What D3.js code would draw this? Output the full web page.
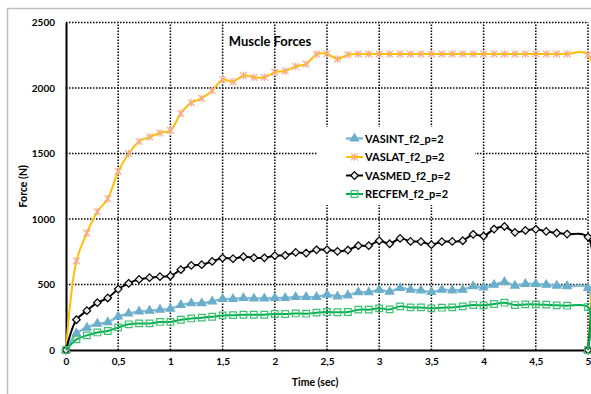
<!DOCTYPE html>
<html>
<head>
<meta charset="utf-8">
<script src="https://cdn.jsdelivr.net/npm/d3@7"></script>
<style>
  body { margin: 0; background: #fff; }
  text { font-family: Lato, "Open Sans", sans-serif; font-weight: bold; fill: #000; }
</style>
</head>
<body>
<div id="chart"></div>
<script>
const width = 591
const height = 394
const margin = {top: 22.5, right: 3, bottom: 44, left: 66}

// time samples (sec), last point drops to zero at 5
const times = [0, 0.1, 0.2, 0.3, 0.4, 0.5, 0.6, 0.7, 0.8, 0.9,
  1, 1.1, 1.2, 1.3, 1.4, 1.5, 1.6, 1.7, 1.8, 1.9,
  2, 2.1, 2.2, 2.3, 2.4, 2.5, 2.6, 2.7, 2.8, 2.9,
  3, 3.1, 3.2, 3.3, 3.4, 3.5, 3.6, 3.7, 3.8, 3.9,
  4, 4.1, 4.2, 4.3, 4.4, 4.5, 4.6, 4.7, 4.8, 5, 5]

const vasint = [0, 128, 170, 200, 212, 255, 278, 293, 300, 308,
  315, 343, 356, 357, 371, 389, 389, 397, 393, 393,
  397, 397, 404, 404, 404, 422, 409, 417, 440, 440,
  460, 445, 473, 460, 455, 443, 460, 455, 460, 486,
  478, 498, 519, 491, 504, 504, 498, 491, 486, 473, 0]

const vaslat = [0, 680, 893, 1056, 1155, 1363, 1498, 1592, 1626, 1656,
  1676, 1806, 1888, 1921, 1979, 2063, 2048, 2096, 2081, 2081,
  2120, 2130, 2165, 2183, 2257, 2262, 2221, 2254, 2260, 2260,
  2260, 2260, 2260, 2260, 2260, 2260, 2260, 2260, 2260, 2260,
  2260, 2260, 2260, 2260, 2260, 2260, 2260, 2260, 2260, 2254, 0]

const vasmed = [0, 231, 300, 361, 397, 465, 509, 539, 552, 560,
  565, 613, 646, 651, 676, 702, 697, 712, 704, 704,
  720, 723, 745, 740, 765, 765, 753, 763, 796, 796,
  834, 811, 852, 829, 827, 804, 827, 829, 834, 883,
  870, 923, 943, 898, 913, 921, 905, 893, 885, 862, 0]

const recfem = [0, 81, 112, 134, 145, 173, 196, 203, 203, 214,
  214, 231, 241, 247, 254, 264, 266, 269, 269, 269,
  275, 275, 279, 277, 285, 290, 288, 290, 308, 308,
  318, 310, 333, 325, 325, 318, 323, 325, 333, 343,
  341, 351, 361, 343, 348, 348, 346, 341, 338, 328, 0]

const xTicks = [0, 0.5, 1, 1.5, 2, 2.5, 3, 3.5, 4, 4.5, 5]
const yTicks = [0, 500, 1000, 1500, 2000, 2500]

const seriesNames = ["VASINT_f2_p=2", "VASLAT_f2_p=2", "VASMED_f2_p=2", "RECFEM_f2_p=2"]
const seriesValues = [vasint, vaslat, vasmed, recfem]

const styles = [
  {line: "#82bcd6", lw: 2.5, marker: "triangle", mfill: "#6aaecb", mstroke: "#6aaecb"},
  {line: "#ffc000", lw: 2, marker: "star", mfill: "none", mstroke: "#f7a98c"},
  {line: "#000000", lw: 2, marker: "diamond", mfill: "#e8e8e8", mstroke: "#000"},
  {line: "#00b050", lw: 2, marker: "square", mfill: "none", mstroke: "#3cc070"}
]

const xScale = d3.scaleLinear()
    .domain([0, 5])
    .range([margin.left, width - margin.right])

const yScale = d3.scaleLinear()
    .domain([0, 2500])
    .range([height - margin.bottom, margin.top])

const svg = d3.select("#chart")
    .append("svg")
    .attr("width", width)
    .attr("height", height)

// outer chart frame
svg.append("rect")
    .attr("x", 7.5).attr("y", 8.5)
    .attr("width", 620).attr("height", 420)
    .attr("fill", "none")
    .attr("stroke", "#c0c0c0")
    .attr("stroke-width", 1.5)

// dotted grid
const grid = svg.append("g")
grid.selectAll(".vg")
    .data(xTicks.filter(d => d > 0))
    .join("line")
    .attr("x1", d => xScale(d)).attr("x2", d => xScale(d))
    .attr("y1", yScale(0)).attr("y2", yScale(2500))
    .attr("stroke", "#000").attr("stroke-width", 1.5)
    .attr("stroke-dasharray", "1.5,1.5")
grid.selectAll(".hg")
    .data(yTicks.filter(d => d > 0))
    .join("line")
    .attr("x1", xScale(0)).attr("x2", xScale(5))
    .attr("y1", d => yScale(d)).attr("y2", d => yScale(d))
    .attr("stroke", "#000").attr("stroke-width", 1.5)
    .attr("stroke-dasharray", "1.5,1.5")

// axes
svg.append("g")
    .attr("transform", `translate(0,${yScale(0)})`)
    .call(d3.axisBottom(xScale).tickValues(xTicks).tickSize(0).tickPadding(8)
      .tickFormat(d => String(d).replace(".", ",")))
svg.append("g")
    .attr("transform", `translate(${xScale(0)},0)`)
    .call(d3.axisLeft(yScale).tickValues(yTicks).tickSize(0).tickPadding(11)
      .tickFormat(d3.format("d")))
svg.selectAll(".domain").attr("stroke", "#000").attr("stroke-width", 2)
svg.selectAll(".tick text").style("font-size", "10px").style("font-family", "Lato, sans-serif").style("font-weight", "bold")

svg.append("text")
    .attr("x", (xScale(0) + xScale(5)) / 2 - 12)
    .attr("y", 386)
    .attr("text-anchor", "middle")
    .style("font-size", "10.5px")
    .text("Time (sec)")

svg.append("text")
    .attr("transform", `translate(27,${(yScale(0) + yScale(2500)) / 2}) rotate(-90)`)
    .attr("text-anchor", "middle")
    .style("font-size", "10.5px")
    .text("Force (N)")

svg.append("text")
    .attr("x", 270)
    .attr("y", 45.5)
    .attr("text-anchor", "middle")
    .style("font-size", "13px")
    .text("Muscle Forces")

// marker shapes
function markerPath(type) {
  if (type === "triangle") return d3.symbol(d3.symbolTriangle, 30)()
  if (type === "diamond") return "M0,-3.8L3.8,0L0,3.8L-3.8,0Z"
  if (type === "square") return "M-3.3,-3.3H3.3V3.3H-3.3Z"
  return "M-3.3,-3.3L3.3,3.3M-3.3,3.3L3.3,-3.3M0,-3.8V3.8"
}

const line = d3.line()
    .x(d => xScale(d[0]))
    .y(d => yScale(d[1]))
    .curve(d3.curveCatmullRom.alpha(0.5))

seriesValues.forEach((vals, i) => {
  const pts = times.map((t, j) => [t, vals[j]])
  const st = styles[i]
  const g = svg.append("g")
  g.append("path")
      .attr("d", line(pts))
      .attr("fill", "none")
      .attr("stroke", st.line)
      .attr("stroke-width", st.lw)
  g.selectAll("path.m")
      .data(pts)
      .join("path")
      .attr("class", "m")
      .attr("d", markerPath(st.marker))
      .attr("transform", d => `translate(${xScale(d[0])},${yScale(d[1])})`)
      .attr("fill", st.mfill)
      .attr("stroke", st.mstroke)
      .attr("stroke-width", 1.2)
})

// legend
const legend = svg.append("g")
legend.append("rect")
    .attr("x", 317).attr("y", 127)
    .attr("width", 158).attr("height", 78)
    .attr("fill", "#fff")
seriesNames.forEach((name, i) => {
  const y = 138.5 + i * 18.5
  const st = styles[i]
  legend.append("line")
      .attr("x1", 346).attr("x2", 363)
      .attr("y1", y).attr("y2", y)
      .attr("stroke", st.line).attr("stroke-width", st.lw)
  legend.append("path")
      .attr("d", markerPath(st.marker))
      .attr("transform", `translate(354.5,${y})`)
      .attr("fill", st.mfill)
      .attr("stroke", st.mstroke)
      .attr("stroke-width", 1.2)
  legend.append("text")
      .attr("x", 365)
      .attr("y", y + 4)
      .style("font-size", "11px")
      .text(name)
})
</script>
</body>
</html>
